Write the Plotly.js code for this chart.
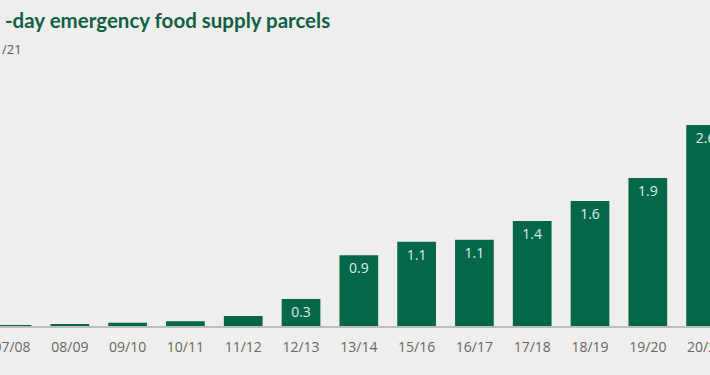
<!DOCTYPE html>
<html>
<head>
<meta charset="utf-8">
<script src="https://cdn.plot.ly/plotly-3.0.1.min.js"></script>
<style>html,body{margin:0;padding:0;background:#efeeec;}#chart{width:710px;height:375px;}</style>
</head>
<body>
<div id="chart"></div>
<script>
const categories = ["07/08","08/09","09/10","10/11","11/12","12/13","13/14","15/16","16/17","17/18","18/19","19/20","20/21"];
const parcels = [0.014, 0.026, 0.041, 0.061, 0.129, 0.347, 0.913, 1.088, 1.114, 1.355, 1.613, 1.91, 2.594];
const barLabels = ["","","","","","0.3","0.9","1.1","1.1","1.4","1.6","1.9","2.6"];
const titleText = "-day emergency food supply parcels";
const subtitleText = "/21";

const trace = {
  type: 'bar',
  x: categories,
  y: parcels,
  text: barLabels,
  textposition: 'inside',
  insidetextanchor: 'end',
  textangle: 0,
  insidetextfont: {family: 'Open Sans, sans-serif', size: 14, color: '#dcefe6'},
  marker: {color: '#04674a'},
  hoverinfo: 'none',
  cliponaxis: false
};

const layout = {
  width: 710, height: 375,
  paper_bgcolor: '#efeeec', plot_bgcolor: '#efeeec',
  margin: {l: 0, r: 0, t: 100, b: 49, pad: 0},
  bargap: 0.33,
  showlegend: false,
  title: {
    text: titleText,
    font: {family: 'Lato, Open Sans, sans-serif', size: 20.5, color: '#0f5f45', weight: 'bold'},
    x: 0.007, xanchor: 'left', xref: 'container',
    y: 0.944, yanchor: 'middle', yref: 'container'
  },
  annotations: [{
    text: subtitleText, xref: 'paper', yref: 'paper', x: 0, y: 1.225,
    xanchor: 'left', yanchor: 'middle', showarrow: false,
    font: {family: 'Open Sans, sans-serif', size: 13, color: '#555'}
  }],
  xaxis: {
    type: 'category',
    range: [-0.208, 12.076],
    showline: true, linecolor: '#bdbdbd', linewidth: 2,
    ticks: '', ticklabelstandoff: 7, showgrid: false, zeroline: false,
    tickfont: {family: 'Open Sans, sans-serif', size: 14, color: '#666'},
    fixedrange: true
  },
  yaxis: {
    range: [0, 2.916],
    showticklabels: false, showgrid: false, zeroline: false, showline: false,
    fixedrange: true
  }
};

Plotly.newPlot('chart', [trace], layout, {displayModeBar: false, staticPlot: true});
</script>
</body>
</html>
